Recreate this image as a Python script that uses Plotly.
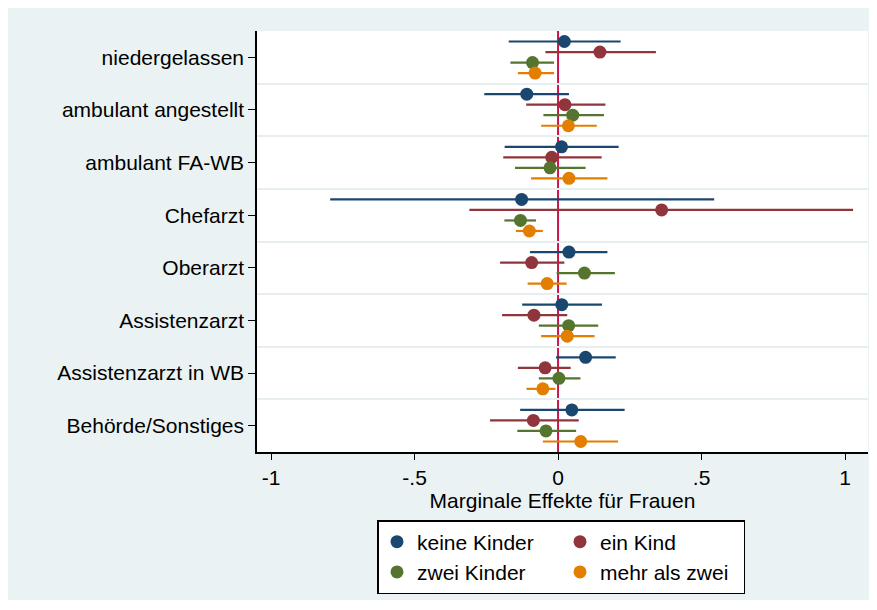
import plotly.graph_objects as go

# categories top to bottom
categories = ["niedergelassen", "ambulant angestellt", "ambulant FA-WB", "Chefarzt",
              "Oberarzt", "Assistenzarzt", "Assistenzarzt in WB", "Behörde/Sonstiges"]

x_ticks = [-1, -0.5, 0, 0.5, 1]
x_ticktext = ["-1", "-.5", "0", ".5", "1"]

# marginal effects and 95% CIs
keine_pt = [0.022, -0.109, 0.012, -0.127, 0.038, 0.013, 0.096, 0.048]
keine_lo = [-0.172, -0.257, -0.186, -0.794, -0.098, -0.125, -0.007, -0.132]
keine_hi = [0.218, 0.038, 0.211, 0.544, 0.172, 0.153, 0.201, 0.232]

ein_pt = [0.146, 0.024, -0.022, 0.361, -0.092, -0.084, -0.045, -0.086]
ein_lo = [-0.044, -0.111, -0.191, -0.309, -0.202, -0.195, -0.140, -0.237]
ein_hi = [0.341, 0.165, 0.152, 1.028, 0.022, 0.032, 0.044, 0.072]

zwei_pt = [-0.089, 0.051, -0.028, -0.131, 0.092, 0.037, 0.003, -0.042]
zwei_lo = [-0.166, -0.051, -0.150, -0.187, -0.005, -0.067, -0.067, -0.142]
zwei_hi = [-0.014, 0.160, 0.096, -0.077, 0.198, 0.140, 0.078, 0.063]

mehr_pt = [-0.080, 0.036, 0.038, -0.100, -0.038, 0.032, -0.053, 0.079]
mehr_lo = [-0.140, -0.059, -0.094, -0.147, -0.106, -0.059, -0.110, -0.053]
mehr_hi = [-0.014, 0.135, 0.172, -0.053, 0.030, 0.127, -0.009, 0.209]

series = [
    ("keine Kinder", keine_pt, keine_lo, keine_hi, "#1A476F", -0.3, "g1"),
    ("ein Kind", ein_pt, ein_lo, ein_hi, "#90353B", -0.1, "g2"),
    ("zwei Kinder", zwei_pt, zwei_lo, zwei_hi, "#55752F", 0.1, "g1"),
    ("mehr als zwei", mehr_pt, mehr_lo, mehr_hi, "#E37E00", 0.3, "g2"),
]

FONT = "Liberation Sans, Arial, sans-serif"
# page body has an 8px margin, so the figure is drawn 8px smaller and shifted
OFF = 8
W, H = 877 - OFF, 610 - OFF
L, T = 257 - OFF, 31 - OFF
R, B = W - (868 - OFF), H - (452 - OFF)
pw, ph = W - L - R, H - T - B


def px_x(p):
    return (p - OFF - L) / pw


def px_y(p):
    return (H - B - (p - OFF)) / ph


fig = go.Figure()

for name, pt, lo, hi, col, off, grp in series:
    ys = [i + 1 + off for i in range(len(categories))]
    fig.add_trace(go.Scatter(
        x=pt, y=ys, mode="markers", name=name, legendgroup=grp,
        marker=dict(color=col, size=13, line=dict(width=0)),
        error_x=dict(type="data", symmetric=False,
                     array=[h - p for h, p in zip(hi, pt)],
                     arrayminus=[p - l for p, l in zip(pt, lo)],
                     color=col, thickness=2.2, width=0),
    ))

# panel background and plot area
fig.add_shape(type="rect", xref="paper", yref="paper", layer="below",
              x0=px_x(6), x1=px_x(870), y0=px_y(600), y1=px_y(8),
              fillcolor="#EAF2F3", line=dict(width=0))
fig.add_shape(type="rect", xref="paper", yref="paper", layer="below",
              x0=0, x1=1, y0=0, y1=1, fillcolor="white", line=dict(width=0))
# zero line
fig.add_shape(type="line", xref="x", yref="paper", layer="between",
              x0=0, x1=0, y0=0, y1=1, line=dict(color="#C8164A", width=2))

fig.update_layout(
    width=W, height=H,
    margin=dict(l=L, r=R, t=T, b=B),
    paper_bgcolor="white", plot_bgcolor="white",
    font=dict(family=FONT, size=21, color="black"),
    showlegend=True,
    legend=dict(
        orientation="h", traceorder="grouped",
        x=px_x(377), y=px_y(520), xanchor="left", yanchor="top",
        bgcolor="white", bordercolor="black", borderwidth=1.5,
        font=dict(family=FONT, size=21, color="black"),
        tracegroupgap=0, entrywidth=138,
    ),
    xaxis=dict(
        range=[-1.049, 1.080], tickvals=x_ticks, ticktext=x_ticktext,
        showgrid=False, zeroline=False,
        showline=True, linecolor="black", linewidth=1.5,
        ticks="outside", ticklen=6, tickcolor="black",
        title=dict(text="Marginale Effekte für Frauen", standoff=0,
                   font=dict(size=21)),
    ),
    yaxis=dict(
        range=[8.5, 0.5], tickvals=list(range(1, len(categories) + 1)),
        ticktext=categories,
        showgrid=False, zeroline=False,
        showline=True, linecolor="black", linewidth=1.5,
        ticks="outside", ticklen=7, tickcolor="black",
        minor=dict(tickvals=[i + 1.5 for i in range(len(categories) - 1)],
                   showgrid=True, gridcolor="#E6EEF0", gridwidth=2, ticks=""),
    ),
)

fig.write_html("out.html")
